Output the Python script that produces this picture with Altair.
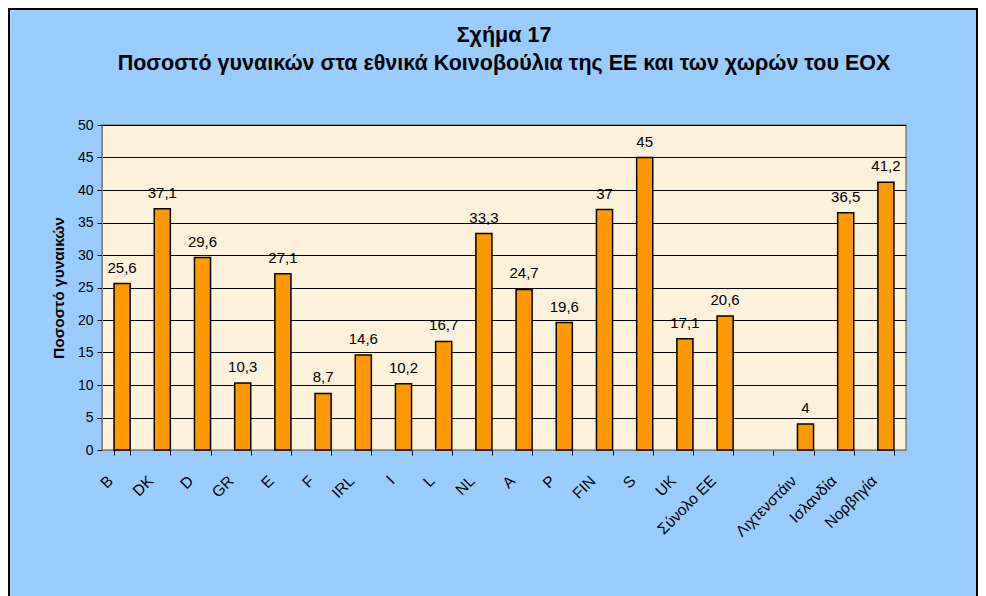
import altair as alt
import pandas as pd

categories = ["B", "DK", "D", "GR", "E", "F", "IRL", "I", "L", "NL", "A", "P",
              "FIN", "S", "UK", "Σύνολο ΕΕ", " ", "Λιχτενστάιν", "Ισλανδία", "Νορβηγία"]
values = [25.6, 37.1, 29.6, 10.3, 27.1, 8.7, 14.6, 10.2, 16.7, 33.3, 24.7, 19.6,
          37, 45, 17.1, 20.6, None, 4, 36.5, 41.2]
labels = ["25,6", "37,1", "29,6", "10,3", "27,1", "8,7", "14,6", "10,2", "16,7", "33,3",
          "24,7", "19,6", "37", "45", "17,1", "20,6", "", "4", "36,5", "41,2"]
y_ticks = [0, 5, 10, 15, 20, 25, 30, 35, 40, 45, 50]

df = pd.DataFrame({"cat": categories, "val": values, "lab": labels})

FONT = "Liberation Sans"

x = alt.X("cat:N", sort=categories, title=None,
          scale=alt.Scale(paddingInner=0.6, paddingOuter=0.3),
          axis=alt.Axis(labelAngle=-45, labelFontSize=15.5, labelColor="black",
                        labelFont=FONT, tickBand="extent", tickColor="black",
                        tickSize=5, domainColor="#808080", labelPadding=18,
                        labelOffset=-17, labelOverlap=False))
y = alt.Y("val:Q", title="Ποσοστό γυναικών",
          scale=alt.Scale(domain=[0, 50], nice=False),
          axis=alt.Axis(values=y_ticks, labelFontSize=14, labelFont=FONT,
                        labelColor="black", tickColor="black", tickSize=5,
                        gridColor="black", gridWidth=1, domainColor="#808080",
                        titleFont=FONT, titleFontSize=15.5, titleFontWeight="bold",
                        titleColor="black", titlePadding=11, labelPadding=4,
                        labelOverlap=False))

bars = alt.Chart(df).mark_bar(color="#FF9900", stroke="black", strokeWidth=1.5).encode(
    x=x, y=y)

text = alt.Chart(df).mark_text(baseline="bottom", dy=-8, fontSize=15, font=FONT,
                               color="black").encode(
    x=x, y=y, text="lab:N")

border = alt.Chart(df).mark_rect(fill=None, stroke="black", strokeWidth=1.5).encode(
    x=alt.value(-93), x2=alt.value(875), y=alt.value(-116), y2=alt.value(480))

chart = alt.layer(bars, text, border).properties(
    width=804, height=325,
    padding={"left": 94, "top": 117, "right": 72, "bottom": 146},
    autosize=alt.AutoSizeParams(type="none"),
    background="#99CCFF",
    title=alt.Title(["Σχήμα 17",
                     "Ποσοστό γυναικών στα εθνικά Κοινοβούλια της ΕΕ και των χωρών του ΕΟΧ"],
                    font=FONT, fontSize=21.5, fontWeight="bold", color="black",
                    anchor="middle", offset=-66, lineHeight=28),
).configure_view(fill="#FCF1DA", stroke="#808080", strokeWidth=1.5)

chart.save("out.html", embed_options={"renderer": "svg", "actions": False})
